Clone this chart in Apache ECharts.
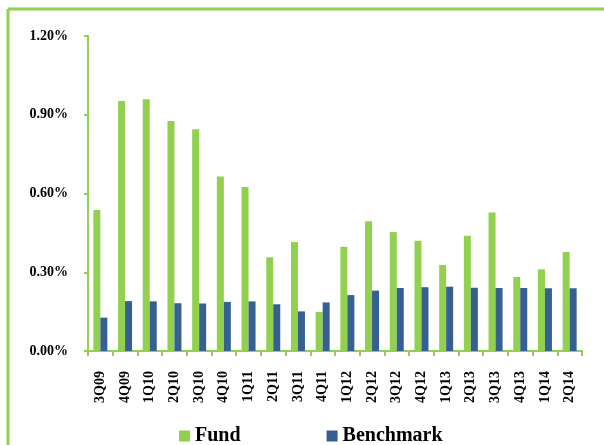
<!DOCTYPE html>
<html>
<head>
<meta charset="utf-8">
<script src="https://cdn.jsdelivr.net/npm/echarts@6/dist/echarts.min.js"></script>
<style>html,body{margin:0;padding:0;background:#fff;}#c{width:604px;height:445px;}</style>
</head>
<body>
<div id="c"></div>
<script>
var categories = ['3Q09','4Q09','1Q10','2Q10','3Q10','4Q10','1Q11','2Q11','3Q11','4Q11','1Q12','2Q12','3Q12','4Q12','1Q13','2Q13','3Q13','4Q13','1Q14','2Q14'];
var fund = [0.537,0.952,0.959,0.876,0.845,0.665,0.625,0.357,0.415,0.149,0.397,0.494,0.453,0.420,0.328,0.439,0.528,0.282,0.311,0.377];
var benchmark = [0.127,0.190,0.189,0.182,0.181,0.187,0.189,0.178,0.151,0.185,0.213,0.230,0.240,0.243,0.245,0.241,0.240,0.240,0.239,0.239];
var yTicks = [0, 0.3, 0.6, 0.9, 1.2];

var green = '#92D050', blue = '#376092';
var font = '"Liberation Serif", "DejaVu Serif", serif';
var chart = echarts.init(document.getElementById('c'), null, {renderer:'canvas'});
chart.setOption({
  animation: false,
  backgroundColor: '#fff',
  grid: {left: 88, right: 22, top: 36, bottom: 94, containLabel: false},
  legend: {
    data: ['Fund','Benchmark'],
    left: 174, top: 421,
    itemWidth: 11, itemHeight: 11, itemGap: 86, itemTextGap: 5,
    icon: 'rect',
    textStyle: {fontFamily: font, fontWeight: 'bold', fontSize: 20, color: '#000'}
  },
  xAxis: {
    type: 'category', data: categories,
    axisLine: {lineStyle: {color: green, width: 2}},
    axisTick: {show: true, alignWithLabel: false, length: 5, lineStyle: {color: green, width: 2}},
    axisLabel: {rotate: 90, margin: 20, interval: 0, fontFamily: font, fontWeight: 'bold', fontSize: 14, color: '#000'}
  },
  yAxis: {
    type: 'value', min: yTicks[0], max: yTicks[yTicks.length-1], interval: 0.3,
    axisLine: {show: true, lineStyle: {color: green, width: 2}},
    axisTick: {show: true, length: 4, lineStyle: {color: green, width: 2}},
    splitLine: {show: false},
    axisLabel: {margin: 20, fontFamily: font, fontWeight: 'bold', fontSize: 14, color: '#000',
      formatter: function(v){ return v.toFixed(2) + '%'; }}
  },
  series: [
    {name: 'Fund', type: 'bar', data: fund, barWidth: 7, barGap: '0%', itemStyle: {color: green}},
    {name: 'Benchmark', type: 'bar', data: benchmark, barWidth: 7, barGap: '0%', itemStyle: {color: blue}}
  ],
  graphic: [
    {type: 'line', shape: {x1: 8, y1: 9, x2: 604, y2: 9}, style: {stroke: green, lineWidth: 3}},
    {type: 'line', shape: {x1: 8, y1: 9, x2: 8, y2: 445}, style: {stroke: green, lineWidth: 3}}
  ]
});
</script>
</body>
</html>
